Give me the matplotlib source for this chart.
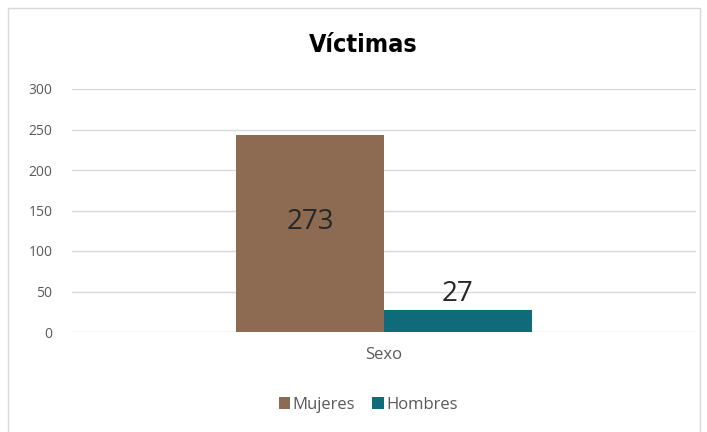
import matplotlib
matplotlib.use("Agg")
import matplotlib.pyplot as plt
from matplotlib.patches import Rectangle

series = ["Mujeres", "Hombres"]
valores = [243, 27]
etiquetas = ["273", "27"]
colores = ["#8c6b52", "#0f6b7a"]
categoria = "Sexo"
yticks = [0, 50, 100, 150, 200, 250, 300]

plt.rcParams["font.family"] = ["Open Sans", "DejaVu Sans"]

fig = plt.figure(figsize=(7.07, 4.32), dpi=100)
fig.patches.append(Rectangle((8 / 707, -0.01), 692 / 707, 1 - 8 / 432 + 0.01,
                             transform=fig.transFigure, fill=False,
                             edgecolor="#d9d9d9", linewidth=1))

ax = fig.add_axes([72 / 707, 100 / 432, 624 / 707, 243 / 432])
ancho = 0.237
for i, (s, v, e, c) in enumerate(zip(series, valores, etiquetas, colores)):
    x = (i - 0.5) * ancho
    ax.bar(x, v, width=ancho, color=c, label=s, zorder=3)
    if i == 0:
        ax.text(x, v / 2 + 14, e, ha="center", va="center", fontsize=20, color="#262626", zorder=4)
    else:
        ax.text(x, v + 3, e, ha="center", va="bottom", fontsize=20, color="#262626", zorder=4)

ax.set_xlim(-0.5, 0.5)
ax.set_ylim(0, 300)
ax.set_yticks(yticks)
ax.set_xticks([0])
ax.set_xticklabels([categoria])
ax.tick_params(axis="both", length=0, colors="#595959")
ax.tick_params(axis="y", pad=14, labelsize=10)
ax.tick_params(axis="x", pad=11, labelsize=12)
ax.grid(axis="y", color="#d9d9d9", linewidth=1, zorder=0)
for sp in ax.spines.values():
    sp.set_visible(False)

fig.text(363 / 707, 1 - 45 / 432, "Víctimas", ha="center", va="center",
         fontsize=18, fontweight="bold", fontstretch="condensed",
         family=["DejaVu Sans"])

leg = fig.legend(loc="center", bbox_to_anchor=(368 / 707, 1 - 405 / 432), ncol=2,
                 frameon=False, fontsize=12, handlelength=0.7, handleheight=0.7,
                 handletextpad=0.15, columnspacing=1.0)
for t in leg.get_texts():
    t.set_color("#595959")

fig.savefig("out.png", dpi=100)
